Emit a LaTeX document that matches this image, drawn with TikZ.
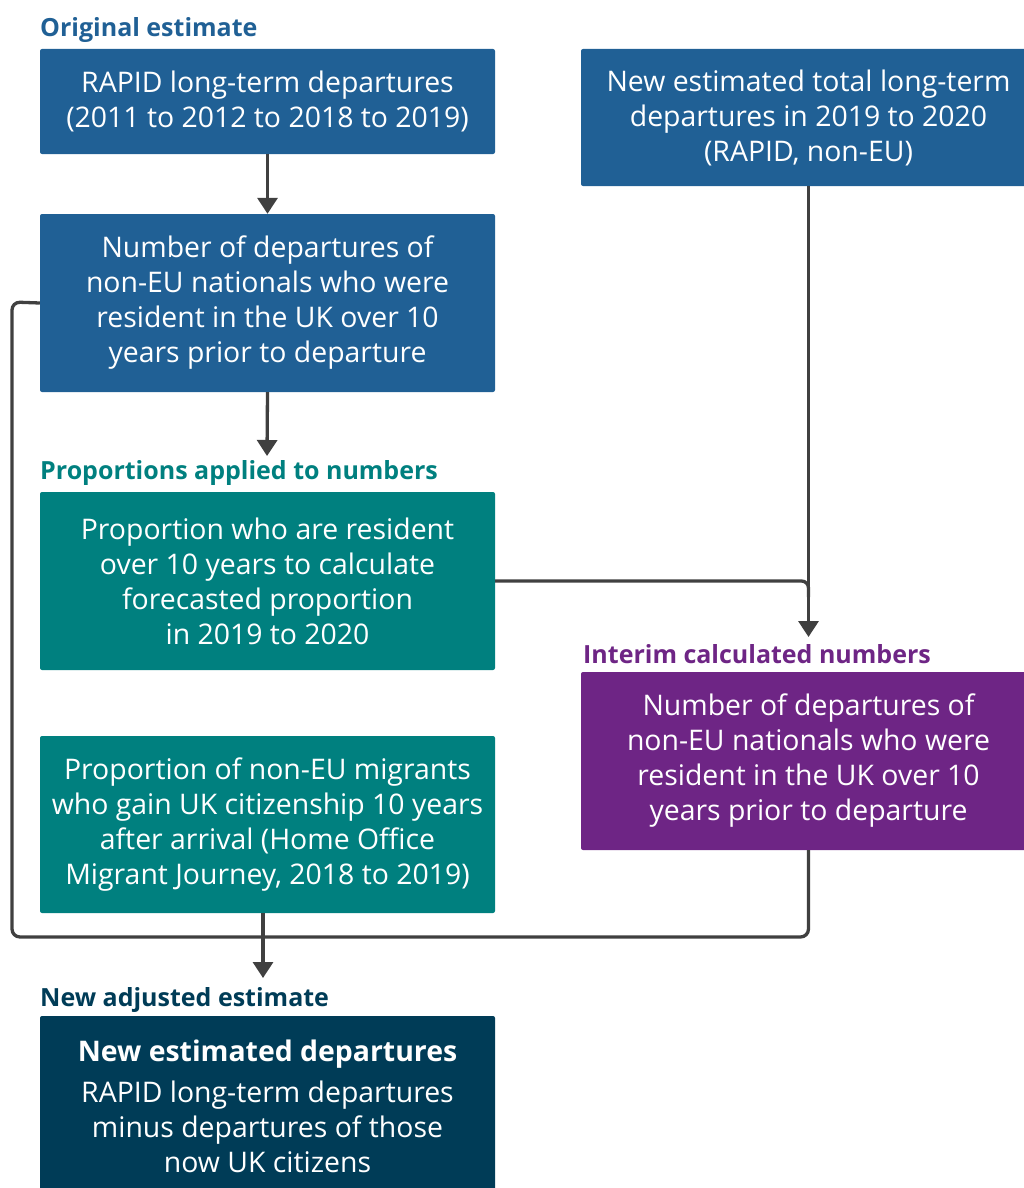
\documentclass[tikz,border=0pt]{standalone}
\usepackage{fontspec}
\setmainfont{Open Sans}
\usetikzlibrary{arrows.meta,calc}
\definecolor{onsblue}{HTML}{206095}
\definecolor{onsteal}{HTML}{00807F}
\definecolor{onspurple}{HTML}{6E2585}
\definecolor{onsnavy}{HTML}{003C57}
\definecolor{linegrey}{HTML}{404040}
\tikzset{
  box/.style={rectangle, rounded corners=2pt, minimum width=455pt, text=white, align=center,
    inner sep=0pt, font=\fontsize{28.4}{35}\selectfont},
  heading/.style={anchor=base west, inner sep=0pt, font=\fontsize{25}{28}\selectfont\bfseries},
  conn/.style={draw=linegrey, line width=3.3pt},
  arr/.style={conn, -{Triangle[width=20pt,length=16pt]}},
}
\begin{document}
\begin{tikzpicture}[x=1pt,y=-1pt]
\useasboundingbox (0,0) rectangle (1024,1188);
\clip (0,0) rectangle (1024,1188);

\node[heading, text=onsblue] (h1) at (40,37) {Original estimate};
\node[heading, text=onsteal] (h2) at (40,479) {Proportions applied to numbers};
\node[heading, text=onspurple] (h3) at (583,663) {Interim calculated numbers};
\node[heading, text=onsnavy] (h4) at (40,1006) {New adjusted estimate};

\node[box, fill=onsblue, minimum height=105pt] (b1) at (267.5,101.5)
  {RAPID long-term departures\\(2011 to 2012 to 2018 to 2019)};
\node[box, fill=onsblue, minimum height=137pt] (b2) at (808.5,117.5)
  {New estimated total long-term\\departures in 2019 to 2020\\(RAPID, non-EU)};
\node[box, fill=onsblue, minimum height=178pt] (b3) at (267.5,303)
  {Number of departures of\\non-EU nationals who were\\resident in the UK over 10\\years prior to departure};
\node[box, fill=onsteal, minimum height=178pt] (b4) at (267.5,581)
  {Proportion who are resident\\over 10 years to calculate\\forecasted proportion\\in 2019 to 2020};
\node[box, fill=onspurple, minimum height=178pt] (b5) at (808.5,761)
  {Number of departures of\\non-EU nationals who were\\resident in the UK over 10\\years prior to departure};
\node[box, fill=onsteal, minimum height=177pt] (b6) at (267.5,824.5)
  {Proportion of non-EU migrants\\who gain UK citizenship 10 years\\after arrival (Home Office\\Migrant Journey, 2018 to 2019)};
\node[box, fill=onsnavy, minimum height=180pt] (b7) at (267.5,1106)
  {\textbf{New estimated departures}\\[6pt]RAPID long-term departures\\minus departures of those\\now UK citizens};

\coordinate (t2) at (267,456);
\coordinate (t5) at (808.5,637);
\coordinate (b6out) at (263,913);
\coordinate (t7) at (263,978);

\draw[arr] (b1.south) -- (b3.north);
\draw[arr] (b3.south) -- (t2);
\draw[arr] (b2.south) -- (t5);
\draw[conn, rounded corners=7pt] (b4.east) -| ($(t5)+(0,-40)$);
\draw[conn, rounded corners=8pt] (b3.west) -- (12,302) -- (12,937) -- (808.5,937) -- (b5.south);
\draw[arr] (b6out) -- (t7);
\end{tikzpicture}
\end{document}
